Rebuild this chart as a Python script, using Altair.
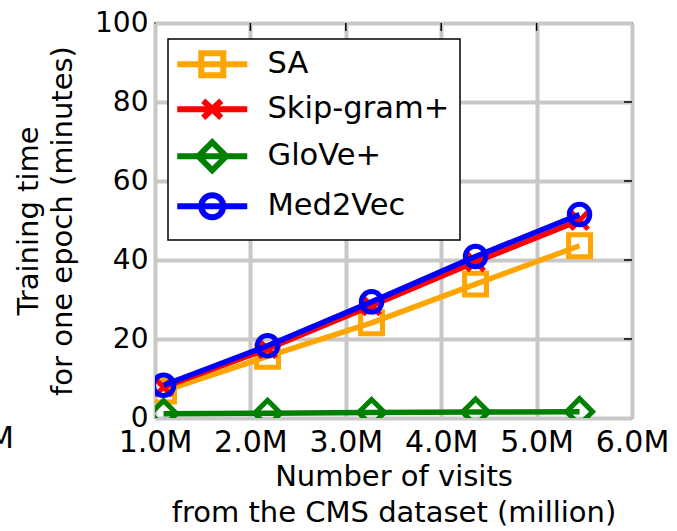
import altair as alt
import pandas as pd

# Training time per epoch vs. number of visits (CMS dataset)
visits = [1.09, 2.18, 3.27, 4.36, 5.45]          # million visits
series_names = ["SA", "Skip-gram+", "GloVe+", "Med2Vec"]
sa_time = [6.8, 15.6, 24.1, 33.9, 43.6]
skipgram_time = [7.8, 17.5, 28.4, 39.5, 50.0]
glove_time = [1.1, 1.2, 1.4, 1.5, 1.6]
med2vec_time = [8.3, 18.3, 29.4, 40.9, 51.5]

x_ticks = [1.0, 2.0, 3.0, 4.0, 5.0, 6.0]
y_ticks = [0, 20, 40, 60, 80, 100]

colors = ["#FFA500", "#FF0000", "#008000", "#0000FF"]

# marker shape used on the plot for each series
plot_shapes = {
    "SA": ("square", 480),
    "Skip-gram+": ("M-1,-1L1,1M-1,1L1,-1", 300),
    "GloVe+": ("diamond", 680),
    "Med2Vec": ("circle", 420),
}

# legend handles: a short line with the hollow marker in its middle
legend_paths = [
    "M-1.6,0H5.4M0.8,-1.1H3.0V1.1H0.8Z",
    "M-1.6,0H5.4M1.0,-0.85L2.8,0.85M1.0,0.85L2.8,-0.85",
    "M-1.6,0H5.4M1.9,-1.4L3.3,0L1.9,1.4L0.5,0Z",
    "M-1.6,0H5.4M0.8,0A1.1,1.1 0 1,0 3.0,0A1.1,1.1 0 1,0 0.8,0",
]

values = [sa_time, skipgram_time, glove_time, med2vec_time]
df = pd.DataFrame(
    [
        {"visits": v, "time": t, "series": name}
        for name, ts in zip(series_names, values)
        for v, t in zip(visits, ts)
    ]
)

FONT = "DejaVu Sans"

x_scale = alt.Scale(domain=[1.0, 6.0], nice=False, zero=False)
y_scale = alt.Scale(domain=[0, 100], nice=False)
color_scale = alt.Scale(domain=series_names, range=colors)
shape_scale = alt.Scale(domain=series_names, range=legend_paths)

x_enc = alt.X(
    "visits:Q",
    scale=x_scale,
    axis=alt.Axis(
        values=x_ticks,
        labelExpr="format(datum.value, '.1f') + 'M'",
        title=["Number of visits", "from the CMS dataset (million)"],
    ),
)
y_enc = alt.Y(
    "time:Q",
    scale=y_scale,
    axis=alt.Axis(values=y_ticks, title=["Training time", "for one epoch (minutes)"]),
)
color_enc = alt.Color("series:N", scale=color_scale, title=None)

layers = []
for name in series_names:
    sub = alt.Chart(df).transform_filter(alt.datum.series == name)
    line = sub.mark_line(strokeWidth=5.5, clip=True).encode(x=x_enc, y=y_enc, color=color_enc)
    shape, size = plot_shapes[name]
    pts = sub.mark_point(
        shape=shape, size=size, filled=False, strokeWidth=5, clip=True, opacity=1
    ).encode(x=x_enc, y=y_enc, color=color_enc)
    layers += [line, pts]

# legend carrier: draws nothing, the legend comes from the scale domains
legend_layer = (
    alt.Chart(df)
    .transform_filter("false")
    .mark_point(filled=False, strokeWidth=6, opacity=1)
    .encode(
        x=x_enc,
        y=y_enc,
        color=color_enc,
        shape=alt.Shape("series:N", scale=shape_scale, title=None),
    )
)

# inward tick marks on the top and right frame edges
top_ticks = pd.DataFrame({"tx": x_ticks[1:-1], "ty": [100] * 4, "ty2": [98] * 4})
right_ticks = pd.DataFrame(
    {"rx": [6.0] * 4, "rx2": [5.916] * 4, "ry": y_ticks[1:-1]}
)
top_rule = alt.Chart(top_ticks).mark_rule(color="black", strokeWidth=1.5).encode(
    x=alt.X("tx:Q", scale=x_scale), y=alt.Y("ty:Q", scale=y_scale), y2="ty2:Q"
)
right_rule = alt.Chart(right_ticks).mark_rule(color="black", strokeWidth=1.5).encode(
    x=alt.X("rx:Q", scale=x_scale), x2="rx2:Q", y=alt.Y("ry:Q", scale=y_scale)
)

# cut-off tick label of the neighbouring panel on the far left
stub = alt.Chart(pd.DataFrame({"lbl": ["6.0M"]})).mark_text(
    align="right", baseline="top", fontSize=30, font=FONT, color="black"
).encode(text="lbl:N", x=alt.value(-141), y=alt.value(401))

chart = (
    alt.layer(*layers, legend_layer, top_rule, right_rule, stub)
    .properties(
        width=477,
        height=395,
        background="white",
        autosize=alt.AutoSizeParams(type="none"),
        padding={"left": 155, "top": 23, "right": 45, "bottom": 113},
    )
    .configure_view(stroke="black", strokeWidth=1.5)
    .configure_axis(
        grid=True,
        gridColor="#c8c8c8",
        gridWidth=4,
        domain=False,
        ticks=False,
        labelFont=FONT,
        labelColor="black",
        titleFont=FONT,
        titleColor="black",
        titleFontWeight="normal",
        labelFlush=False,
        labelOverlap=False,
    )
    .configure_axisX(labelFontSize=30, labelPadding=9, titleFontSize=29,
                     titlePadding=5, titleLineHeight=36)
    .configure_axisY(labelFontSize=28, labelPadding=7, titleFontSize=29,
                     titlePadding=17, titleLineHeight=34)
    .configure_legend(
        orient="none",
        legendX=13,
        legendY=16,
        padding=10,
        fillColor="white",
        strokeColor="black",
        strokeWidth=1.5,
        labelFontSize=30.5,
        labelFont=FONT,
        labelColor="black",
        labelLimit=0,
        symbolSize=400,
        symbolStrokeWidth=6,
        labelOffset=59,
        rowPadding=0,
        cornerRadius=0,
    )
)

chart.save("out.html", embed_options={"renderer": "svg", "actions": False})
